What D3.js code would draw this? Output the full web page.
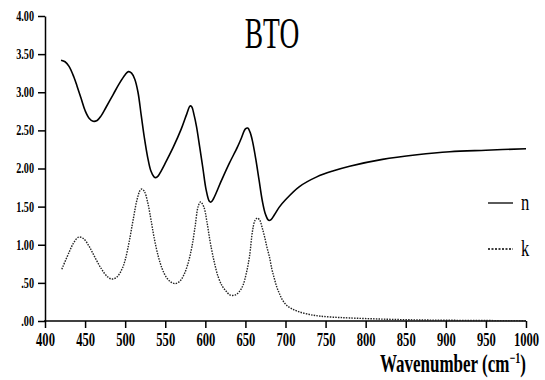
<!DOCTYPE html>
<head>
    <meta charset="UTF-8">
    <script src="https://cdn.jsdelivr.net/npm/d3@7"></script>
    <title>BTO</title>
    <style>
        body { margin: 0; background: #fff; }
        text { font-family: 'Liberation Serif', 'Times New Roman', serif; fill: #000; }
        .tick line, .domain { stroke: #000; stroke-width: 1.5px; }
    </style>
</head>
<body>
    <div class="figure"></div>
    <script>
// values
        const nWave = [420, 425, 430, 436, 440, 445, 450, 455, 460, 465, 470, 476, 485, 493, 500, 504, 508, 512, 516, 520, 524, 528, 532, 536, 538, 541, 545, 550, 560, 570, 577, 581, 583, 586, 589, 593, 597, 601, 605, 607, 610, 620, 630, 640, 645, 650, 653, 656, 659, 663, 667, 671, 675, 679, 682, 686, 692, 700, 717, 739, 760, 780, 821, 864, 905, 950, 1000];
        const nVals = [3.42, 3.40, 3.34, 3.20, 3.08, 2.92, 2.76, 2.66, 2.62, 2.63, 2.69, 2.80, 2.97, 3.12, 3.23, 3.27, 3.25, 3.17, 3.00, 2.70, 2.40, 2.15, 1.97, 1.89, 1.88, 1.90, 1.97, 2.07, 2.28, 2.52, 2.72, 2.82, 2.81, 2.70, 2.55, 2.28, 2.00, 1.72, 1.57, 1.56, 1.60, 1.84, 2.07, 2.28, 2.40, 2.52, 2.53, 2.47, 2.35, 2.12, 1.85, 1.58, 1.40, 1.32, 1.33, 1.39, 1.49, 1.59, 1.76, 1.89, 1.97, 2.03, 2.12, 2.18, 2.22, 2.24, 2.26];
        const kWave = [421, 430, 436, 442, 448, 455, 462, 470, 478, 484, 490, 496, 500, 505, 510, 515, 519, 521, 524, 528, 532, 536, 541, 546, 551, 556, 562, 568, 573, 578, 583, 587, 591, 594, 598, 602, 606, 611, 616, 621, 626, 631, 637, 642, 647, 651, 655, 659, 662, 665, 668, 671, 674, 677, 680, 683, 686, 689, 692, 696, 701, 708, 717, 730, 742, 760, 780, 820, 860, 900, 950, 1000];
        const kVals = [0.68, 0.90, 1.03, 1.10, 1.08, 0.98, 0.84, 0.69, 0.58, 0.55, 0.58, 0.68, 0.80, 1.04, 1.33, 1.60, 1.72, 1.73, 1.70, 1.56, 1.34, 1.10, 0.86, 0.69, 0.58, 0.52, 0.49, 0.52, 0.60, 0.74, 0.96, 1.22, 1.50, 1.56, 1.50, 1.30, 1.04, 0.78, 0.58, 0.46, 0.39, 0.34, 0.34, 0.38, 0.47, 0.62, 0.84, 1.19, 1.32, 1.35, 1.32, 1.22, 1.10, 0.96, 0.84, 0.68, 0.56, 0.45, 0.37, 0.28, 0.21, 0.16, 0.12, 0.085, 0.065, 0.05, 0.04, 0.025, 0.015, 0.01, 0.006, 0.004];
        const xTicks = [400, 450, 500, 550, 600, 650, 700, 750, 800, 850, 900, 950, 1000];
        const yTicks = [0, 0.5, 1, 1.5, 2, 2.5, 3, 3.5, 4];
        const yTickLabels = ['.00', '.50', '1.00', '1.50', '2.00', '2.50', '3.00', '3.50', '4.00'];
        const seriesNames = ['n', 'k'];

        const width = 545, height = 380;
        const svg = d3.select(".figure").append("svg")
            .attr("width", width)
            .attr("height", height);

        const x = d3.scaleLinear().domain([400, 1000]).range([45, 526]);
        const y = d3.scaleLinear().domain([0, 4]).range([321, 16]);

// axes
        const xAxis = svg.append("g")
            .attr("transform", `translate(0,${y(0)})`)
            .call(d3.axisBottom(x).tickValues(xTicks).tickSize(7).tickSizeOuter(0).tickFormat(d3.format("d")));
        xAxis.select(".domain").attr("d", `M${x(400) - 1},0H${x(1000)}`);
        xAxis.selectAll("text")
            .attr("y", 12)
            .attr("dy", "0.71em")
            .attr("transform", "scale(0.7,1)")
            .style("font-size", "18px")
            .style("font-weight", "bold");

        const yAxis = svg.append("g")
            .attr("transform", `translate(${x(400)},0)`)
            .call(d3.axisLeft(y).tickValues(yTicks).tickSize(7).tickSizeOuter(0)
                .tickFormat((d, i) => yTickLabels[i]));
        yAxis.selectAll("text")
            .attr("x", -11 / 0.73)
            .attr("transform", "scale(0.73,1)")
            .style("font-size", "14px")
            .style("font-weight", "bold");

// curves
        const line = d3.line()
            .x(d => x(d[0]))
            .y(d => y(d[1]))
            .curve(d3.curveCatmullRom.alpha(0.5));

        svg.append("path")
            .datum(d3.zip(nWave, nVals))
            .attr("d", line)
            .attr("fill", "none")
            .attr("stroke", "#000")
            .attr("stroke-width", 1.6);

        svg.append("path")
            .datum(d3.zip(kWave, kVals))
            .attr("d", line)
            .attr("fill", "none")
            .attr("stroke", "#222")
            .attr("stroke-width", 1.4)
            .attr("stroke-dasharray", "1.5,1.2");

// legend
        const legend = svg.append("g");
        seriesNames.forEach((name, i) => {
            const ly = 203 + i * 46;
            legend.append("line")
                .attr("x1", 488).attr("x2", 513)
                .attr("y1", ly).attr("y2", ly)
                .attr("stroke", "#000")
                .attr("stroke-width", 1.3)
                .attr("stroke-dasharray", i === 0 ? null : "2,1.5");
            legend.append("text")
                .attr("transform", `translate(521,${ly + 7}) scale(0.72,1)`)
                .style("font-size", "23px")
                .text(name);
        });

// titles
        svg.append("text")
            .attr("transform", "translate(272,48) scale(0.61,1)")
            .attr("text-anchor", "middle")
            .style("font-size", "45px")
            .text("BTO");

        const xTitle = svg.append("text")
            .attr("transform", "translate(526,372) scale(0.68,1)")
            .attr("text-anchor", "end")
            .style("font-size", "25px")
            .style("font-weight", "bold");
        xTitle.append("tspan").text("Wavenumber (cm");
        xTitle.append("tspan").attr("dy", -9).style("font-size", "15px").text("−1");
        xTitle.append("tspan").attr("dy", 9).text(")");
    </script>
</body>
</html>
